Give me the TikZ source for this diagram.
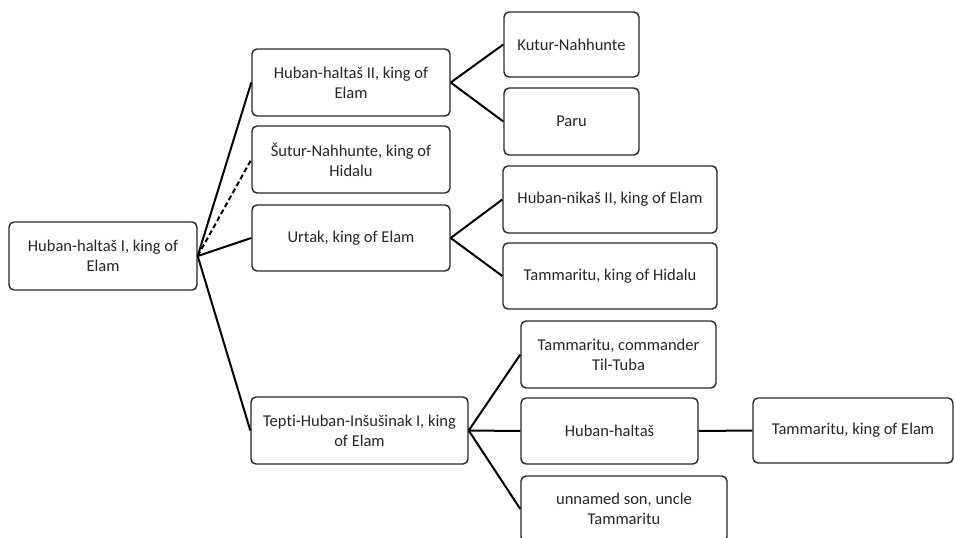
\documentclass[tikz,border=0pt]{standalone}
\usepackage{fontspec}
\setmainfont{Carlito}[Ligatures={NoCommon}]
\begin{document}
\begin{tikzpicture}[x=1pt,y=-1pt,
  person/.style={draw=black!85, line width=1.4pt, rounded corners=5pt, align=center,
    inner sep=0pt, font=\fontsize{16.5}{20}\selectfont, text=black!85},
  link/.style={line width=2pt, black}]
\useasboundingbox (0,0) rectangle (954,538);
% boxes: center x, center y, width, height
\newcommand{\pbox}[6]{\node[person, minimum width=#3pt, minimum height=#4pt] (#5) at (#1,#2) {#6};}
\pbox{103}{256}{188}{68}{root}{Huban-haltaš I, king of\\Elam}
\pbox{351}{82.5}{198}{67}{hh}{Huban-haltaš II, king of\\Elam}
\pbox{351}{159.5}{198}{67}{sn}{Šutur-Nahhunte, king of\\Hidalu}
\pbox{351}{238}{198}{66}{ur}{Urtak, king of Elam}
\pbox{359.5}{430.5}{217}{67}{tp}{Tepti-Huban-Inšušinak I, king\\of Elam}
\pbox{571.5}{44.5}{135}{65}{kn}{Kutur-Nahhunte}
\pbox{571.5}{121.5}{135}{67}{pa}{Paru}
\pbox{610}{199.5}{214}{67}{hn}{Huban-nikaš II, king of Elam}
\pbox{610}{276}{214}{66}{th}{Tammaritu, king of Hidalu}
\pbox{618.5}{354.5}{195}{67}{tc}{Tammaritu, commander\\Til-Tuba}
\pbox{609.5}{431}{177}{66}{hx}{Huban-haltaš}
\pbox{624}{509}{206}{66}{us}{unnamed son, uncle\\Tammaritu}
\pbox{853}{430.5}{200}{65}{tk}{Tammaritu, king of Elam}
% connectors
\draw[link] (root.east) -- (hh.west);
\draw[link, dash pattern=on 5pt off 3pt] (root.east) -- (sn.west);
\draw[link] (root.east) -- (ur.west);
\draw[link] (root.east) -- (tp.west);
\draw[link] (hh.east) -- (kn.west);
\draw[link] (hh.east) -- (pa.west);
\draw[link] (ur.east) -- (hn.west);
\draw[link] (ur.east) -- (th.west);
\draw[link] (tp.east) -- (tc.west);
\draw[link] (tp.east) -- (hx.west);
\draw[link] (tp.east) -- (us.west);
\draw[link] (hx.east) -- (tk.west);
\end{tikzpicture}
\end{document}
